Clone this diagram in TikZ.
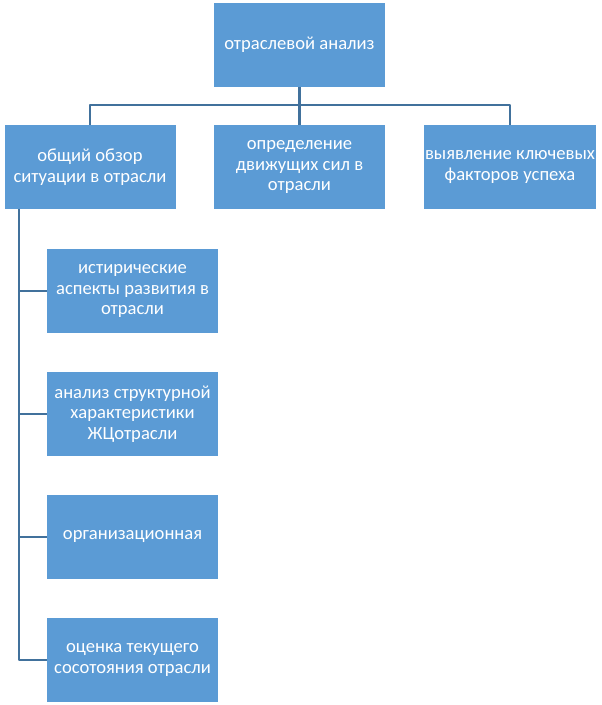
\documentclass[tikz,border=0pt]{standalone}
\usepackage{fontspec}
\setmainfont{Carlito}
\definecolor{boxfill}{HTML}{5B9BD5}
\definecolor{linkcol}{HTML}{41719C}
\tikzset{
  box/.style={draw=none,fill=boxfill,text=white,minimum width=128.25bp,minimum height=63bp,
    align=center,inner sep=1bp,font=\fontsize{14}{15.5}\selectfont},
  link/.style={draw=linkcol,line width=1.6bp},
}
\begin{document}
\begin{tikzpicture}[>=latex,line join=bevel,]
\useasboundingbox (0bp,0bp) rectangle (451.5bp,-528.75bp);
%%
\node (top) at (224.6bp,-33.4bp) [box] {отраслевой анализ};
  \node (ovr) at (67.5bp,-125.25bp) [box] {общий обзор\\ситуации в отрасли};
  \node (sil) at (224.6bp,-125.25bp) [box] {определение\\движущих сил в\\отрасли};
  \node (kfu) at (382.5bp,-125.25bp) [box] {выявление ключевых\\факторов успеха};
  \node (hist) at (99.4bp,-218.25bp) [box] {истирические\\аспекты развития в\\отрасли};
  \node (str) at (99.4bp,-310.5bp) [box] {анализ структурной\\характеристики\\ЖЦотрасли};
  \node (org) at (99.4bp,-402.75bp) [box] {организационная};
  \node (ots) at (99.4bp,-495bp) [box] {оценка текущего\\сосотояния отрасли};
%
\coordinate (bus) at (224.6bp,-78.75bp);
  \coordinate (spine) at (14.25bp,-156.75bp);
  \draw [link] (top.south) -- (bus);
  \draw [link] (bus) -| (ovr.north);
  \draw [link] (bus) -- (sil.north);
  \draw [link] (bus) -| (kfu.north);
%
\draw [link] (spine) |- (hist.west);
  \draw [link] (spine) |- (str.west);
  \draw [link] (spine) |- (org.west);
  \draw [link] (spine) |- (ots.west);
%
\end{tikzpicture}
\end{document}
